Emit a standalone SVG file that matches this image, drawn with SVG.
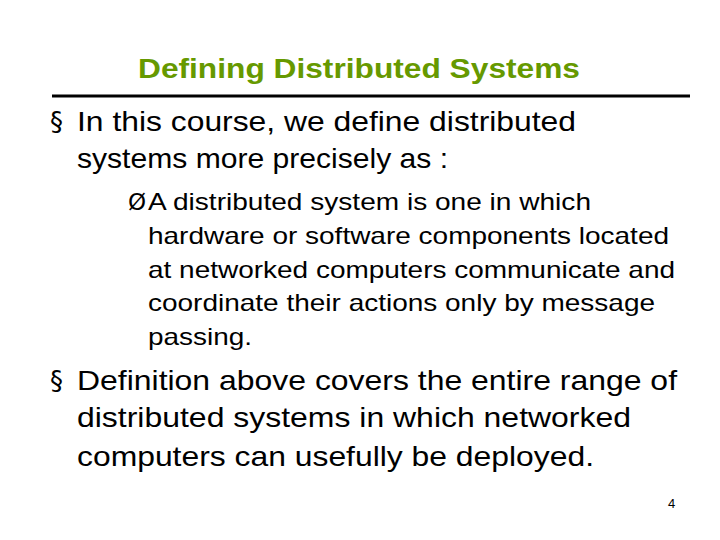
<svg xmlns="http://www.w3.org/2000/svg" width="720" height="540" viewBox="0 0 720 540">
<style>
text{font-family:"Liberation Sans",Arial,sans-serif;fill:#000}
.t{font-size:27px;font-weight:bold;fill:#669900}
.b{font-size:28px}
.s{font-size:24px}
.sym{font-family:"DejaVu Sans",sans-serif;font-size:26px}
.sym2{font-family:"DejaVu Sans",sans-serif;font-size:23px}
</style>
<rect width="720" height="540" fill="#fff"/>
<text class="t" x="138" y="78" textLength="442" lengthAdjust="spacingAndGlyphs">Defining Distributed Systems</text>
<line x1="52" y1="96" x2="690" y2="96" stroke="#000" stroke-width="3"/>
<text class="sym" x="50" y="131">§</text>
<text class="b" x="77" y="131" textLength="499" lengthAdjust="spacingAndGlyphs">In this course, we define distributed</text>
<text class="b" x="77" y="168" textLength="371" lengthAdjust="spacingAndGlyphs">systems more precisely as :</text>
<text class="sym2" x="128" y="210">Ø</text>
<text class="s" x="148" y="210" textLength="443" lengthAdjust="spacingAndGlyphs">A distributed system is one in which</text>
<text class="s" x="148" y="244" textLength="521" lengthAdjust="spacingAndGlyphs">hardware or software components located</text>
<text class="s" x="148" y="278" textLength="527" lengthAdjust="spacingAndGlyphs">at networked computers communicate and</text>
<text class="s" x="148" y="311" textLength="507" lengthAdjust="spacingAndGlyphs">coordinate their actions only by message</text>
<text class="s" x="148" y="345" textLength="104" lengthAdjust="spacingAndGlyphs">passing.</text>
<text class="sym" x="50" y="390">§</text>
<text class="b" x="77" y="390" textLength="600" lengthAdjust="spacingAndGlyphs">Definition above covers the entire range of</text>
<text class="b" x="77" y="427" textLength="554" lengthAdjust="spacingAndGlyphs">distributed systems in which networked</text>
<text class="b" x="77" y="466" textLength="517" lengthAdjust="spacingAndGlyphs">computers can usefully be deployed.</text>
<text x="668" y="508" font-size="13">4</text>
</svg>
